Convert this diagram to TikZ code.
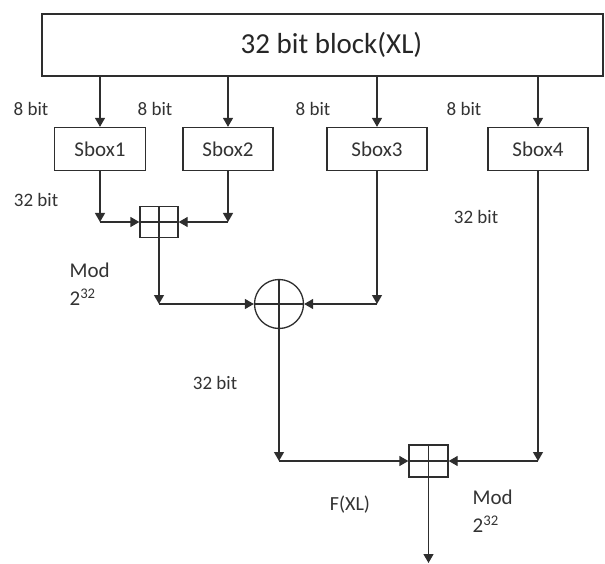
\documentclass[tikz,border=0pt]{standalone}
\usepackage{fontspec}
\setmainfont{Carlito}
\usetikzlibrary{arrows.meta,calc}
\begin{document}
\begin{tikzpicture}[x=1pt,y=-1pt,
  line width=1.3pt, draw=black!82,
  arr/.style={-{Triangle[length=9pt,width=10pt]}},
  topbox/.style={draw, rectangle, minimum width=561pt, minimum height=62pt, inner sep=0pt,
    font=\fontsize{29}{31}\selectfont, text=black!85},
  sbox/.style={draw, rectangle, minimum height=43pt, inner sep=0pt,
    font=\fontsize{21}{23}\selectfont, text=black!80},
  addbox/.style={draw, rectangle, minimum width=38pt, minimum height=31pt, inner sep=0pt,
    path picture={\draw[line width=1.1pt] (path picture bounding box.north) -- (path picture bounding box.south)
      (path picture bounding box.west) -- (path picture bounding box.east);}},
  xorc/.style={draw, circle, minimum size=49pt, inner sep=0pt,
    path picture={\draw[line width=1.1pt] (path picture bounding box.north) -- (path picture bounding box.south)
      (path picture bounding box.west) -- (path picture bounding box.east);}},
  lbl/.style={font=\fontsize{19}{21}\selectfont, text=black!80, inner sep=0pt},
  lblw/.style={lbl, anchor=west, font=\fontsize{21}{23}\selectfont}
]
\useasboundingbox (0,0) rectangle (605,564);

\node[topbox] (top) at (322.5,45) {\hspace*{18pt}32 bit block(XL)};
\node[sbox, minimum width=91pt] (sb1) at (100,149) {Sbox1};
\node[sbox, minimum width=90pt] (sb2) at (228,149) {Sbox2};
\node[sbox, minimum width=100pt] (sb3) at (377,149) {Sbox3};
\node[sbox, minimum width=100pt] (sb4) at (538,149) {Sbox4};

\node[addbox] (m1) at (159,222) {};
\node[xorc] (x) at (279,304) {};
\node[addbox, minimum width=39pt, minimum height=32pt] (m2) at (428.5,461) {};
\coordinate (out) at (428.5,563);

% top to sboxes
\foreach \s in {sb1,sb2,sb3,sb4}
  \draw[arr] (top.south -| \s.north) -- (\s.north);

% sbox1, sbox2 -> m1
\draw[arr] (sb1.south) -- (sb1.south |- m1.west);
\draw[arr] (sb1.south |- m1.west) -- (m1.west);
\draw[arr] (sb2.south) -- (sb2.south |- m1.east);
\draw[arr] (sb2.south |- m1.east) -- (m1.east);

% m1, sbox3 -> xor
\draw[arr] (m1.south) -- (m1.south |- x.west);
\draw[arr] (m1.south |- x.west) -- (x.west);
\draw[arr] (sb3.south) -- (sb3.south |- x.east);
\draw[arr] (sb3.south |- x.east) -- (x.east);

% xor, sbox4 -> m2
\draw[arr] (x.south) -- (x.south |- m2.west);
\draw[arr] (x.south |- m2.west) -- (m2.west);
\draw[arr] (sb4.south) -- (sb4.south |- m2.east);
\draw[arr] (sb4.south |- m2.east) -- (m2.east);

% output
\draw[arr] (m2.south) -- (out);

% labels
\node[lbl] (l8a) at (31,109) {8 bit};
\node[lbl] (l8b) at (155,109) {8 bit};
\node[lbl] (l8c) at (313,109) {8 bit};
\node[lbl] (l8d) at (464,109) {8 bit};
\node[lbl] (l32a) at (36,200) {32 bit};
\node[lbl] (l32b) at (476,217) {32 bit};
\node[lbl] (l32c) at (215,383) {32 bit};
\node[lblw] (mod1) at (69,270) {Mod};
\node[lblw] (pow1) at (69,297) {2\textsuperscript{32}};
\node[lbl, font=\fontsize{20}{22}\selectfont] (fxl) at (350,505) {F(XL)};
\node[lblw] (mod2) at (472,497) {Mod};
\node[lblw] (pow2) at (472,524) {2\textsuperscript{32}};
\end{tikzpicture}
\end{document}
